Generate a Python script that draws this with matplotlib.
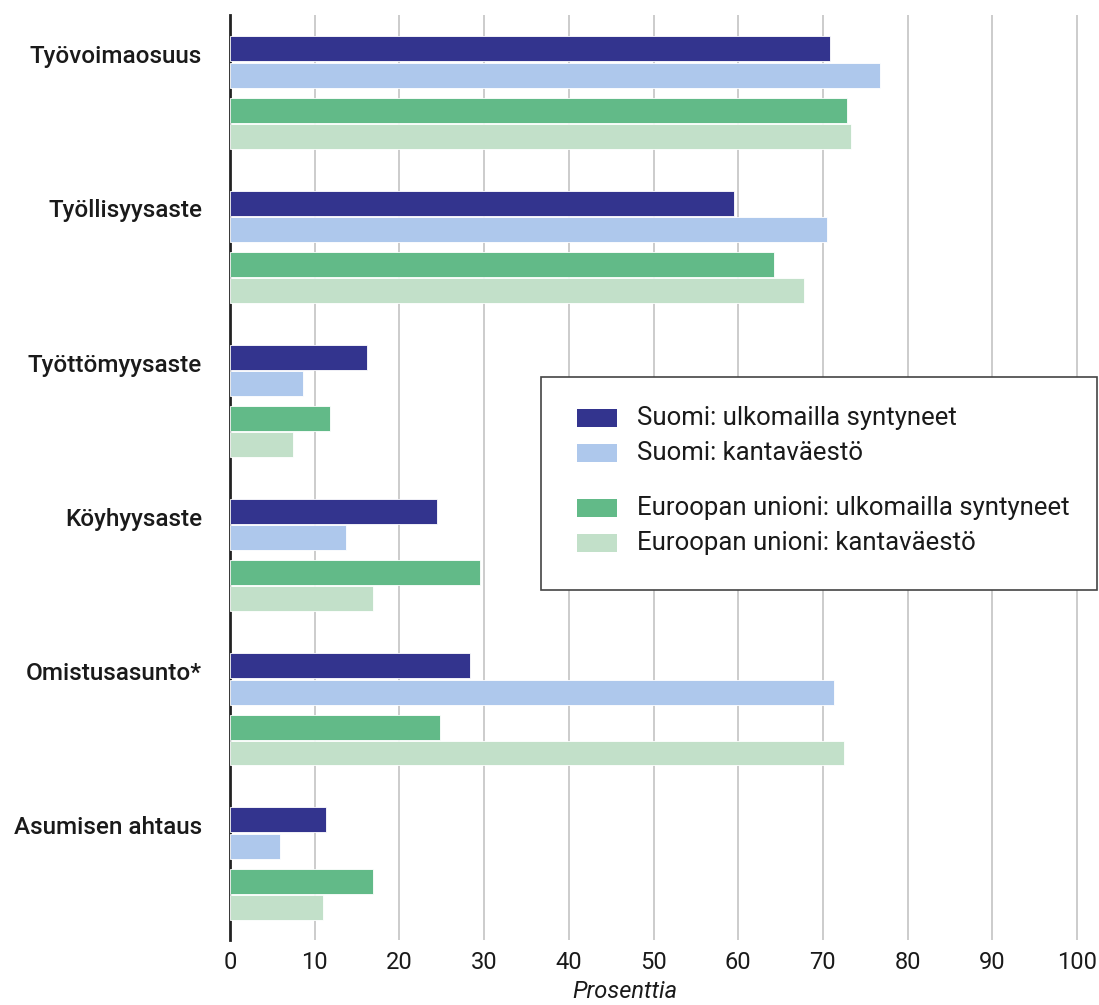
import matplotlib.pyplot as plt
from matplotlib.patches import Rectangle

plt.rcParams['font.family'] = ['Roboto', 'DejaVu Sans']

# data
categories = ["Työvoimaosuus", "Työllisyysaste", "Työttömyysaste",
              "Köyhyysaste", "Omistusasunto*", "Asumisen ahtaus"]
fi_foreign = [70.8, 59.5, 16.2, 24.4, 28.3, 11.3]
fi_native = [76.7, 70.5, 8.6, 13.7, 71.3, 5.9]
eu_foreign = [72.8, 64.2, 11.8, 29.5, 24.8, 16.9]
eu_native = [73.3, 67.8, 7.4, 16.9, 72.5, 11.0]
series_labels = ["Suomi: ulkomailla syntyneet", "Suomi: kantaväestö",
                 "Euroopan unioni: ulkomailla syntyneet", "Euroopan unioni: kantaväestö"]
colors = ["#33348e", "#aec8ec", "#62ba88", "#c2e0c9"]
xticks = list(range(0, 101, 10))

W, H = 1099, 1005
fig = plt.figure(figsize=(W / 100, H / 100), dpi=100)
ax = fig.add_axes([230 / W, 1 - 940 / H, 1 - 230 / W, (940 - 15) / H])

offsets = [0.0, 0.172, 0.399, 0.567]
bar_h = 0.162
for vals, off, c in zip([fi_foreign, fi_native, eu_foreign, eu_native], offsets, colors):
    ys = [i + off for i in range(len(categories))]
    ax.barh(ys, vals, height=bar_h, color=c, edgecolor="white", linewidth=0.6, zorder=3)

ax.set_xlim(0, (W - 230) / 8.47)
ax.set_ylim(5.78, -0.22)
ax.set_xticks(xticks)
ax.set_xticklabels([str(t) for t in xticks], fontsize=17, color="#1a1a1a")
# labels sit a little below the first bar's centre
ax.set_yticks([i + 0.035 for i in range(len(categories))])
ax.set_yticklabels(categories, fontsize=17.5, fontweight="medium", color="#1a1a1a")
ax.tick_params(axis="both", length=0)
ax.tick_params(axis="y", pad=20)
ax.tick_params(axis="x", pad=8)
ax.grid(axis="x", color="#c4c4c4", linewidth=1.2, zorder=0)
ax.set_axisbelow(True)
for s in ["top", "right", "bottom"]:
    ax.spines[s].set_visible(False)
ax.spines["left"].set_color("#222222")
ax.spines["left"].set_linewidth(2)


def fx(x):
    return x / W


def fy(y):
    return 1 - y / H


fig.text(fx(625), fy(991), "Prosenttia", fontsize=17, style="italic", color="#1a1a1a",
         ha="center", va="center")

# legend box drawn by hand (extra gap between Suomi and EU rows)
fig.add_artist(Rectangle((fx(541), fy(590)), fx(1097) - fx(541), fy(377) - fy(590),
                         transform=fig.transFigure, facecolor="white",
                         edgecolor="#444444", linewidth=1.2, zorder=5))
rows = [418, 453, 508, 543]
for r, c, lab in zip(rows, colors, series_labels):
    fig.add_artist(Rectangle((fx(577), fy(r + 9)), fx(617) - fx(577), fy(r - 9) - fy(r + 9),
                             transform=fig.transFigure, facecolor=c, edgecolor="none", zorder=6))
    fig.text(fx(637), fy(r), lab, fontsize=18.5, va="center", ha="left", color="#1a1a1a", zorder=6)

fig.savefig("out.png", dpi=100)
